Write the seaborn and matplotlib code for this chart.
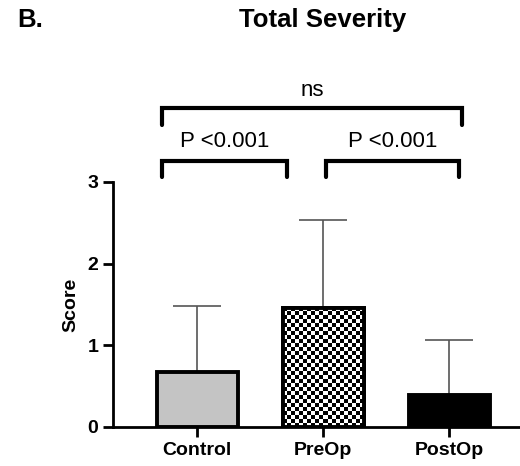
import matplotlib
matplotlib.use("Agg")
import matplotlib.pyplot as plt
import seaborn as sns
import numpy as np
import pandas as pd

# values
groups = ["Control", "PreOp", "PostOp"]
means = [0.67, 1.46, 0.39]
sd_upper = [0.81, 1.07, 0.68]

df = pd.DataFrame({"group": groups, "score": means})

sns.set_style("ticks", {"text.color": "black", "xtick.color": "black",
                        "ytick.color": "black", "axes.labelcolor": "black",
                        "axes.edgecolor": "black"})
plt.rcParams["font.family"] = ["Liberation Sans", "DejaVu Sans"]

fig = plt.figure(figsize=(5.2, 4.66), dpi=100)
ax = fig.add_axes([0.217, 0.0837, 0.783, 0.526])

sns.barplot(data=df, x="group", y="score", errorbar=None, width=0.64,
            palette=["#c4c4c4", "white", "black"], hue="group", legend=False,
            edgecolor="black", linewidth=2.8, ax=ax)

# checkerboard fill for PreOp, clipped to its bar
pre = ax.patches[1]
x0, y0 = pre.get_x(), pre.get_y()
x1, y1 = x0 + pre.get_width(), y0 + pre.get_height()
ii, jj = np.indices((30, 20))
checks = (ii + jj) % 2
im = ax.imshow(checks, cmap="gray", extent=[x0, x1, y0, y1], aspect="auto",
               interpolation="nearest", zorder=pre.get_zorder() + 0.1)
im.set_clip_path(pre)
ax.add_patch(plt.Rectangle((x0, y0), pre.get_width(), pre.get_height(),
                           fill=False, edgecolor="black", lw=2.8,
                           zorder=pre.get_zorder() + 0.2))

ax.errorbar(range(len(groups)), means, yerr=[[0] * 3, sd_upper], fmt="none",
            ecolor="#555555", elinewidth=1.2, capsize=17, capthick=1.2, zorder=0)

ax.set_ylim(0, 3)
ax.set_xlim(-0.67, 2.56)
ax.set_yticks([0, 1, 2, 3])
ax.set_xlabel("")
ax.set_ylabel("Score", fontsize=14, fontweight="bold", labelpad=6)
for lab in ax.get_xticklabels() + ax.get_yticklabels():
    lab.set_fontweight("bold")
ax.tick_params(axis="both", labelsize=14, width=2, length=7)
sns.despine(ax=ax)
for s in ["left", "bottom"]:
    ax.spines[s].set_linewidth(2)


def bracket(x1, x2, y_low, y_high, label, ty):
    ax.plot([x1, x1, x2, x2], [y_low, y_high, y_high, y_low], color="black",
            lw=3, clip_on=False, solid_joinstyle="miter")
    ax.text((x1 + x2) / 2, ty, label, ha="center", va="center", fontsize=16,
            clip_on=False)


bracket(-0.28, 0.71, 3.06, 3.26, "P <0.001", 3.49)
bracket(1.02, 2.08, 3.06, 3.26, "P <0.001", 3.49)
bracket(-0.28, 2.10, 3.70, 3.90, "ns", 4.12)

fig.text(0.621, 0.957, "Total Severity", ha="center", va="center",
         fontsize=18.5, fontweight="bold")
fig.text(0.033, 0.957, "B.", ha="left", va="center", fontsize=18.5,
         fontweight="bold")

fig.savefig("out.png", dpi=100)
